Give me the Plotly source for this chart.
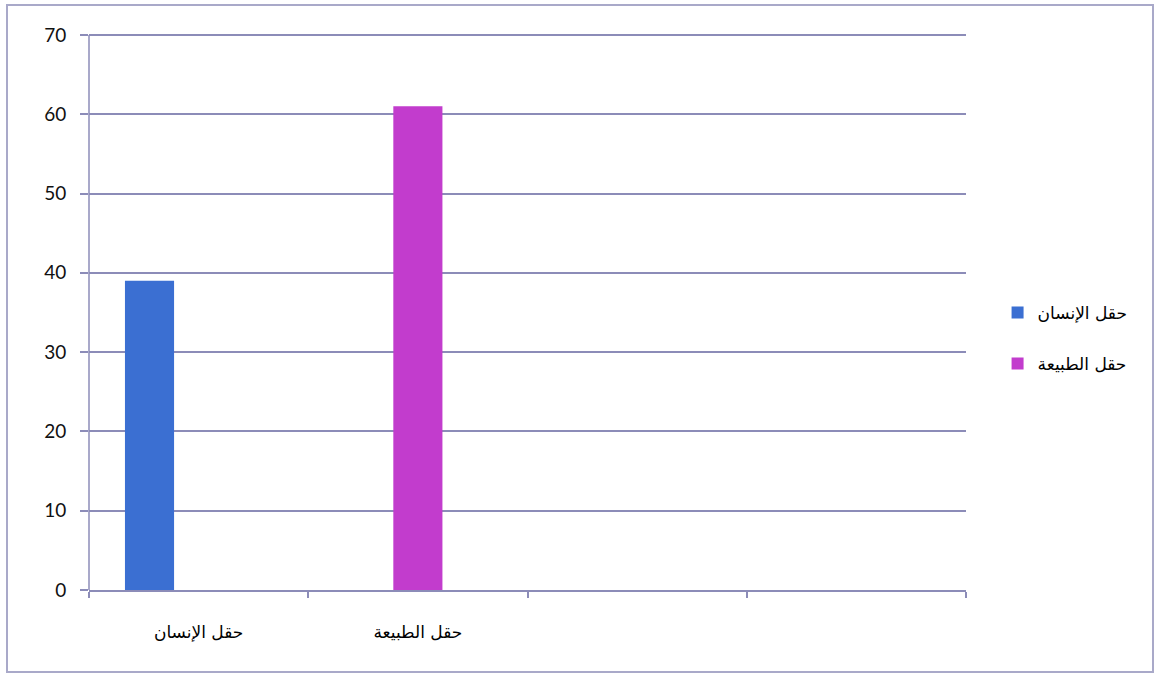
import plotly.graph_objects as go

# Category axis (four slots, only the first two are labelled)
categories = ["حقل الإنسان", "حقل الطبيعة", " ", "  "]

# Series values per category
insan_values = [39, None, None, None]
tabia_values = [None, 61, None, None]

series_names = ["حقل الإنسان", "حقل الطبيعة"]
series_colors = ["#3b6fd2", "#c23ccd"]

y_ticks = [0, 10, 20, 30, 40, 50, 60, 70]

grid_color = "#8c8cb8"
axis_font = dict(family="Lato, 'Open Sans', sans-serif", size=19, color="#111111")
arabic_font = dict(family="'DejaVu Sans', sans-serif", size=17, color="#000000")

bar_width = 0.224

fig = go.Figure()
fig.add_trace(go.Bar(
    x=categories, y=insan_values, name=series_names[0],
    marker=dict(color=series_colors[0], line=dict(width=0)),
    width=bar_width, offset=-1.5 * bar_width,
    legendgroup="a",
))
fig.add_trace(go.Bar(
    x=categories, y=tabia_values, name=series_names[1],
    marker=dict(color=series_colors[1], line=dict(width=0)),
    width=bar_width, offset=-0.5 * bar_width,
    legendgroup="b",
))

plot_h = 559
fig.update_layout(
    width=1158, height=675,
    margin=dict(l=89, r=192, t=31, b=85),
    paper_bgcolor="white", plot_bgcolor="white",
    barmode="overlay",
    showlegend=True,
    legend=dict(
        x=1.036, y=0.45, xanchor="left", yanchor="middle",
        font=arabic_font, traceorder="grouped", tracegroupgap=26,
        itemwidth=30, bgcolor="rgba(0,0,0,0)",
    ),
    xaxis=dict(
        type="category", categoryorder="array", categoryarray=categories,
        range=[-0.5, 3.5], tickson="boundaries",
        ticks="outside", ticklen=6, tickcolor=grid_color, tickwidth=1.5,
        showline=True, linecolor=grid_color, linewidth=1.5,
        showgrid=False, tickfont=arabic_font, ticklabelstandoff=26,
    ),
    yaxis=dict(
        range=[0, 70.5], tickvals=y_ticks,
        ticks="outside", ticklen=8, tickcolor=grid_color, tickwidth=1.5,
        showline=False,
        showgrid=True, gridcolor=grid_color, gridwidth=1.5,
        zeroline=False, tickfont=axis_font, ticklabelstandoff=10,
    ),
)

# Value axis line running from the lowest to the highest tick
fig.add_shape(
    type="line", xref="paper", yref="y",
    x0=0, x1=0, y0=y_ticks[0], y1=y_ticks[-1],
    line=dict(color=grid_color, width=1.5),
)

# Chart-area frame around the whole figure
fig.add_shape(
    type="rect", xref="paper", yref="paper",
    x0=-82 / 877, x1=1064 / 877, y0=-82 / plot_h, y1=(plot_h + 26) / plot_h,
    line=dict(color="#a9a9c9", width=2), layer="below",
)

fig.write_html("out.html")
